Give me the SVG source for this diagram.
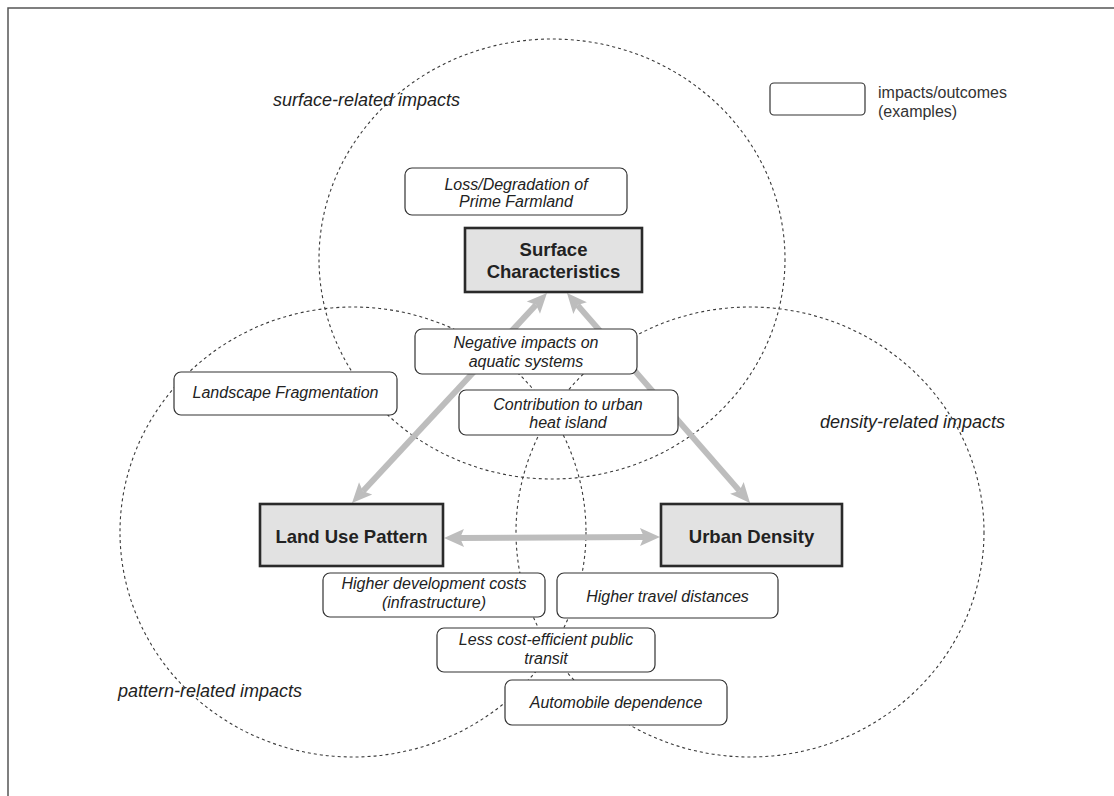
<svg xmlns="http://www.w3.org/2000/svg" width="1114" height="796" viewBox="0 0 1114 796">
  <defs>
    <style>
      .zone { fill: none; stroke: #3a3a3a; stroke-width: 1.1; stroke-dasharray: 3 3; }
      .zone-label { font-family: "Liberation Sans", Arial, sans-serif; font-size: 18px; font-style: italic; fill: #222; }
      .outcome rect { fill: #fff; stroke: #333; stroke-width: 1.2; }
      .outcome text { font-family: "Liberation Sans", Arial, sans-serif; font-size: 16px; font-style: italic; fill: #222; text-anchor: middle; }
      .factor rect { fill: #e2e2e2; stroke: #2a2a2a; stroke-width: 2.6; }
      .factor text { font-family: "Liberation Sans", Arial, sans-serif; font-size: 18.5px; font-weight: bold; fill: #222; text-anchor: middle; }
      .link { fill: none; stroke: #bdbdbd; stroke-width: 6; marker-start: url(#head); marker-end: url(#head); }
      .legend text { font-family: "Liberation Sans", Arial, sans-serif; font-size: 16px; fill: #333; }
    </style>
    <marker id="head" viewBox="0 0 20 18" refX="4" refY="9" markerWidth="20" markerHeight="18" markerUnits="userSpaceOnUse" orient="auto-start-reverse" overflow="visible">
      <path d="M0,0 L20,9 L0,18 L4,9 Z" fill="#bdbdbd"/>
    </marker>
  </defs>

  <rect width="1114" height="796" fill="#fff"/>
  <!-- frame -->
  <path d="M8,796 L8,8 L1114,8" fill="none" stroke="#555" stroke-width="1.5"/>

  <!-- impact zones -->
  <g id="zones">
    <ellipse class="zone" cx="552" cy="259" rx="233" ry="220"/>
    <ellipse class="zone" cx="353" cy="532" rx="233" ry="225"/>
    <ellipse class="zone" cx="750" cy="532" rx="234" ry="225"/>
    <text class="zone-label" x="273" y="106">surface-related impacts</text>
    <text class="zone-label" x="820" y="428">density-related impacts</text>
    <text class="zone-label" x="118" y="697">pattern-related impacts</text>
  </g>

  <!-- connectors -->
  <g id="connectors">
    <line class="link" x1="362.9" y1="491.3" x2="536.1" y2="304.7"/>
    <line class="link" x1="577.5" y1="305.1" x2="739.5" y2="490.9"/>
    <line class="link" x1="460" y1="538" x2="644" y2="537"/>
  </g>

  <!-- factors -->
  <g id="surface-characteristics" class="factor">
    <rect x="465" y="228" width="177" height="64"/>
    <text x="553.5" y="256">Surface</text>
    <text x="553.5" y="278">Characteristics</text>
  </g>
  <g id="land-use-pattern" class="factor">
    <rect x="260" y="504" width="183" height="62"/>
    <text x="351.5" y="543">Land Use Pattern</text>
  </g>
  <g id="urban-density" class="factor">
    <rect x="661" y="504" width="181" height="62"/>
    <text x="751.5" y="543">Urban Density</text>
  </g>

  <!-- outcomes -->
  <g id="loss-farmland" class="outcome">
    <rect x="405" y="168" width="222" height="47" rx="7"/>
    <text x="516" y="190">Loss/Degradation of</text>
    <text x="516" y="207">Prime Farmland</text>
  </g>
  <g id="aquatic-systems" class="outcome">
    <rect x="415" y="329" width="222" height="45" rx="7"/>
    <text x="526" y="348">Negative impacts on</text>
    <text x="526" y="367">aquatic systems</text>
  </g>
  <g id="landscape-fragmentation" class="outcome">
    <rect x="174" y="372" width="223" height="43" rx="7"/>
    <text x="285.5" y="398">Landscape Fragmentation</text>
  </g>
  <g id="heat-island" class="outcome">
    <rect x="459" y="390" width="219" height="45" rx="7"/>
    <text x="568" y="410">Contribution to urban</text>
    <text x="568" y="428">heat island</text>
  </g>
  <g id="development-costs" class="outcome">
    <rect x="323" y="573" width="222" height="44" rx="7"/>
    <text x="434" y="589">Higher development costs</text>
    <text x="434" y="608">(infrastructure)</text>
  </g>
  <g id="travel-distances" class="outcome">
    <rect x="557" y="573" width="221" height="45" rx="7"/>
    <text x="667.5" y="602">Higher travel distances</text>
  </g>
  <g id="public-transit" class="outcome">
    <rect x="437" y="628" width="218" height="44" rx="7"/>
    <text x="546" y="645">Less cost-efficient public</text>
    <text x="546" y="664">transit</text>
  </g>
  <g id="automobile-dependence" class="outcome">
    <rect x="505" y="680" width="222" height="45" rx="7"/>
    <text x="616" y="708">Automobile dependence</text>
  </g>

  <!-- legend -->
  <g id="legend" class="legend">
    <rect x="770" y="83" width="95" height="32" rx="4" fill="#fff" stroke="#333" stroke-width="1.2"/>
    <text x="878" y="98">impacts/outcomes</text>
    <text x="878" y="117">(examples)</text>
  </g>
</svg>
